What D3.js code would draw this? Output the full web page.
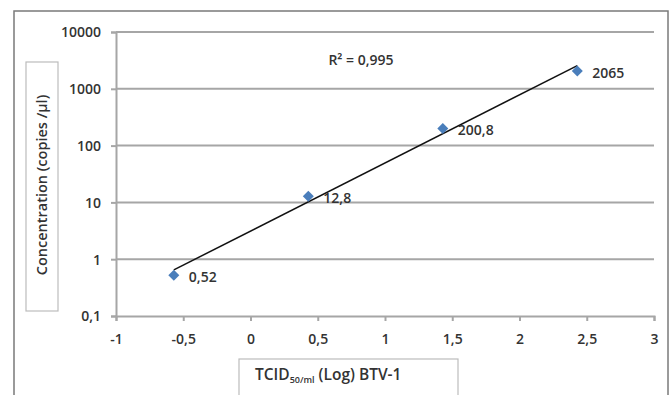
<!DOCTYPE html>
<html><head><meta charset="utf-8">
<script src="https://cdn.jsdelivr.net/npm/d3@7"></script>
<style>body{margin:0;background:#fff}text{font-family:"Open Sans",sans-serif;fill:#333;font-weight:600}</style>
</head><body><svg id="c" width="669" height="395"></svg>
<script>
const xVals = [-0.57, 0.43, 1.43, 2.43];
const yVals = [0.52, 12.8, 200.8, 2065];
const pointLabels = ["0,52", "12,8", "200,8", "2065"];
const xTicks = [-1, -0.5, 0, 0.5, 1, 1.5, 2, 2.5, 3];
const yTicks = [0.1, 1, 10, 100, 1000, 10000];
const r2Label = "R² = 0,995";
const yTitle = "Concentration (copies /µl)";

const svg = d3.select("#c");
svg.append("rect").attr("x", 14).attr("y", 11).attr("width", 654).attr("height", 400)
  .attr("fill", "#fff").attr("stroke", "#7a7a7a").attr("stroke-width", 1.5);

const x = d3.scaleLinear().domain([-1, 3]).range([116, 654]);
const y = d3.scaleLog().domain([0.1, 10000]).range([316, 32]);
const fmt = v => String(v).replace(".", ",");

svg.append("g").selectAll("line").data(yTicks.slice(1)).join("line")
  .attr("x1", x(-1)).attr("x2", x(3)).attr("y1", d => y(d)).attr("y2", d => y(d))
  .attr("stroke", "#a6a6a6").attr("stroke-width", 2);

const ya = svg.append("g").attr("transform", `translate(${x(-1)},0)`)
  .call(d3.axisLeft(y).tickValues(yTicks).tickFormat(fmt).tickSize(5).tickPadding(10));
ya.select(".domain").attr("stroke", "#a6a6a6").attr("stroke-width", 2);
ya.selectAll(".tick line").attr("stroke", "#a6a6a6").attr("stroke-width", 2);
ya.selectAll("text").attr("font-size", 14).attr("font-family", "Open Sans").attr("fill", "#333").attr("dy", "0.35em");

const xa = svg.append("g").attr("transform", `translate(0,${y(0.1)})`)
  .call(d3.axisBottom(x).tickValues(xTicks).tickFormat(fmt).tickSize(5).tickPadding(13));
xa.select(".domain").attr("stroke", "#a6a6a6").attr("stroke-width", 2);
xa.selectAll(".tick line").attr("stroke", "#a6a6a6").attr("stroke-width", 2);
xa.selectAll("text").attr("font-size", 14).attr("font-family", "Open Sans").attr("fill", "#333");

// trendline: least squares fit on log10(y)
const ly = yVals.map(v => Math.log10(v));
const mx = d3.mean(xVals), my = d3.mean(ly);
const slope = d3.sum(xVals, (v, i) => (v - mx) * (ly[i] - my)) / d3.sum(xVals, v => (v - mx) ** 2);
const icpt = my - slope * mx;
const x0 = d3.min(xVals), x1 = d3.max(xVals);
svg.append("line")
  .attr("x1", x(x0)).attr("y1", y(10 ** (icpt + slope * x0)))
  .attr("x2", x(x1)).attr("y2", y(10 ** (icpt + slope * x1)))
  .attr("stroke", "#111").attr("stroke-width", 1.5);

svg.append("g").selectAll("path").data(xVals).join("path")
  .attr("d", "M0,-5.5L5.5,0L0,5.5L-5.5,0Z")
  .attr("transform", (d, i) => `translate(${x(d)},${y(yVals[i])})`)
  .attr("fill", "#4a7ebb");

svg.append("g").selectAll("text").data(xVals).join("text")
  .attr("x", d => x(d) + 15).attr("y", (d, i) => y(yVals[i]) + 2)
  .attr("dy", "0.35em").attr("font-size", 14).text((d, i) => pointLabels[i]);

svg.append("text").attr("x", 361).attr("y", 60).attr("dy", "0.35em")
  .attr("text-anchor", "middle").attr("font-size", 14).text(r2Label);

svg.append("rect").attr("x", 26).attr("y", 62).attr("width", 32).attr("height", 249)
  .attr("fill", "#fff").attr("stroke", "#bcbcbc").attr("stroke-width", 1.2);
svg.append("text").attr("transform", "translate(42,185) rotate(-90)")
  .attr("text-anchor", "middle").attr("dy", "0.35em").attr("font-size", 14.5).text(yTitle);

svg.append("rect").attr("x", 239).attr("y", 359).attr("width", 219).attr("height", 60)
  .attr("fill", "#fff").attr("stroke", "#bcbcbc").attr("stroke-width", 1.2);
const xt = svg.append("text").attr("x", 255).attr("y", 375).attr("dy", "0.35em").attr("font-size", 15.5);
xt.append("tspan").text("TCID");
xt.append("tspan").attr("font-size", 9).attr("dy", "3").text("50/ml");
xt.append("tspan").attr("dy", "-3").text(" (Log) BTV-1");
</script></body></html>
